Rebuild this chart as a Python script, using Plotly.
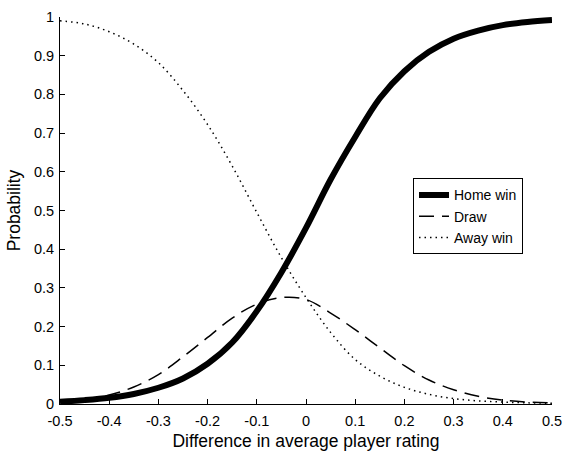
import plotly.graph_objects as go

x_vals = [-0.50, -0.45, -0.40, -0.35, -0.30, -0.25, -0.20, -0.15, -0.10, -0.05,
          0.00, 0.05, 0.10, 0.15, 0.20, 0.25, 0.30, 0.35, 0.40, 0.45, 0.50]
home_win = [0.006, 0.010, 0.016, 0.026, 0.042, 0.066, 0.104, 0.159, 0.240, 0.340,
            0.455, 0.580, 0.690, 0.790, 0.860, 0.910, 0.944, 0.965, 0.979, 0.987, 0.992]
draw = [0.006, 0.011, 0.023, 0.044, 0.076, 0.122, 0.172, 0.222, 0.258, 0.275,
        0.270, 0.235, 0.192, 0.145, 0.099, 0.062, 0.037, 0.020, 0.010, 0.005, 0.003]
away_win = [0.990, 0.982, 0.962, 0.930, 0.882, 0.810, 0.722, 0.615, 0.495, 0.378,
            0.275, 0.185, 0.115, 0.072, 0.043, 0.025, 0.014, 0.008, 0.005, 0.003, 0.002]

x_ticks = [-0.5, -0.4, -0.3, -0.2, -0.1, 0, 0.1, 0.2, 0.3, 0.4, 0.5]
x_ticktext = ["-0.5", "-0.4", "-0.3", "-0.2", "-0.1", "0", "0.1", "0.2", "0.3", "0.4", "0.5"]
y_ticks = [0, 0.1, 0.2, 0.3, 0.4, 0.5, 0.6, 0.7, 0.8, 0.9, 1]
y_ticktext = ["0", "0.1", "0.2", "0.3", "0.4", "0.5", "0.6", "0.7", "0.8", "0.9", "1"]

FONT = "Arial, Liberation Sans, sans-serif"

fig = go.Figure()
fig.add_trace(go.Scatter(x=x_vals, y=home_win, mode="lines", name="Home win",
                         line=dict(color="black", width=6, shape="spline")))
fig.add_trace(go.Scatter(x=x_vals, y=draw, mode="lines", name="Draw",
                         line=dict(color="black", width=1.5, shape="spline", dash="15px,8px")))
fig.add_trace(go.Scatter(x=x_vals, y=away_win, mode="lines", name="Away win",
                         line=dict(color="black", width=1.5, shape="spline", dash="1.5px,4px")))

fig.update_layout(
    width=564, height=454,
    margin=dict(l=60, r=12, t=17, b=49.5),
    paper_bgcolor="white", plot_bgcolor="white",
    font=dict(family=FONT, size=14.5, color="black"),
    legend=dict(x=0.7175, y=0.583, xanchor="left", yanchor="top",
                bordercolor="black", borderwidth=1, bgcolor="white",
                font=dict(size=14), tracegroupgap=0, itemwidth=30),
)
fig.update_xaxes(range=[-0.5, 0.5], tickvals=x_ticks, ticktext=x_ticktext,
                 showline=True, linecolor="black", linewidth=1,
                 ticks="inside", ticklen=5, tickcolor="black",
                 showgrid=False, zeroline=False, mirror=False, automargin=False,
                 tickfont=dict(size=14.5), ticklabelstandoff=4,
                 title=dict(text="Difference in average player rating", font=dict(size=17.5), standoff=6))
fig.update_yaxes(range=[0, 1], tickvals=y_ticks, ticktext=y_ticktext,
                 showline=True, linecolor="black", linewidth=1,
                 ticks="inside", ticklen=5, tickcolor="black",
                 showgrid=False, zeroline=False, mirror=False, automargin=False,
                 tickfont=dict(size=14.5), ticklabelstandoff=2,
                 title=dict(text="Probability", font=dict(size=17.5), standoff=8))

# remove the default 8px page margin so the 564x454 figure fills the window exactly
fig.write_html("out.html",
               config={"displayModeBar": False},
               post_script="document.body.style.margin='0';document.body.style.overflow='hidden';")
